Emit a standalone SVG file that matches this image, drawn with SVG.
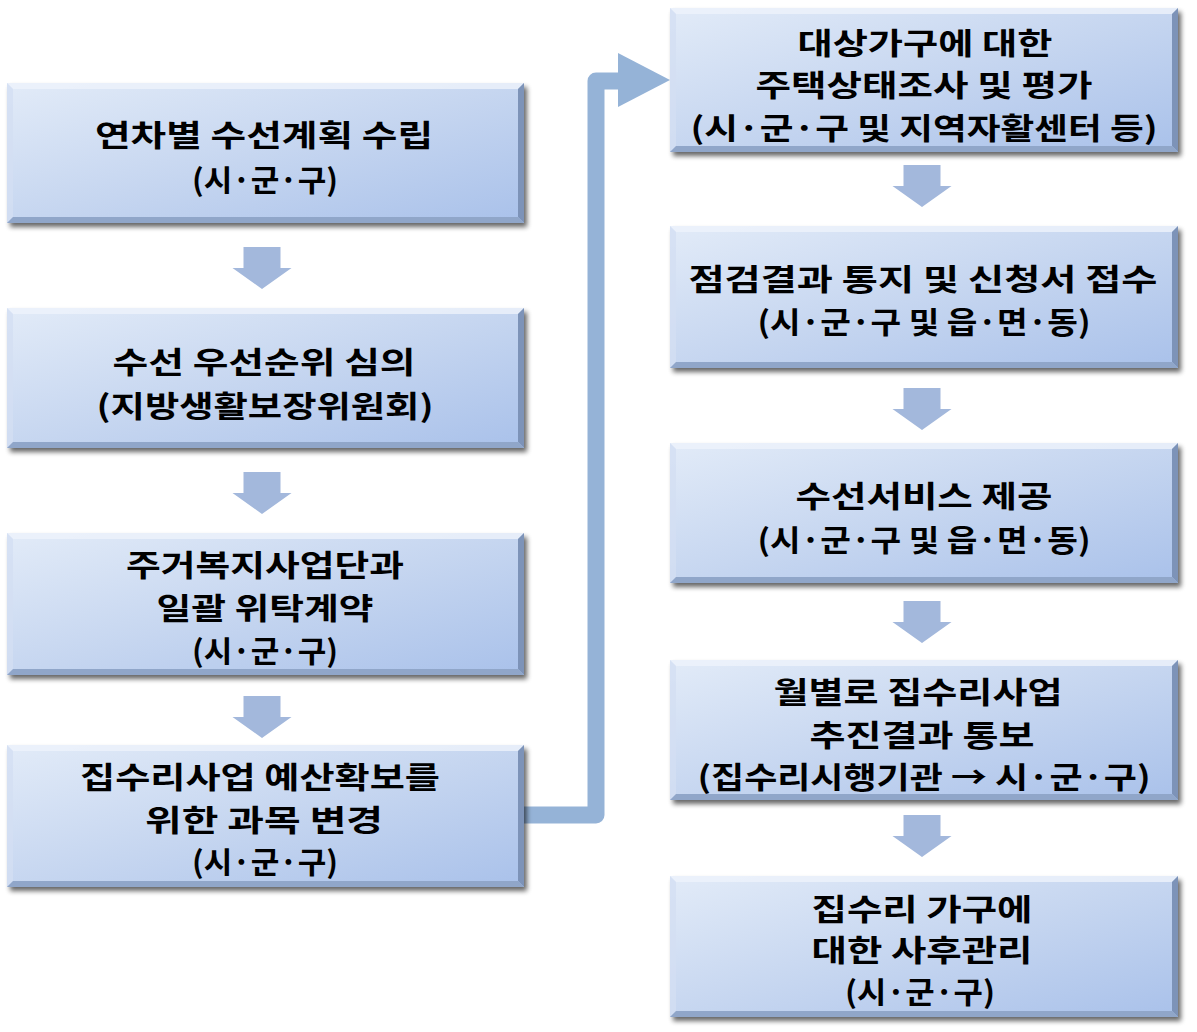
<svg xmlns="http://www.w3.org/2000/svg" width="1197" height="1032" viewBox="0 0 1197 1032">
<defs>
<linearGradient id="fill" x1="0" y1="0" x2="1" y2="1">
<stop offset="0" stop-color="#e2ebf8"/>
<stop offset="0.5" stop-color="#c6d6f0"/>
<stop offset="1" stop-color="#a9c1ea"/>
</linearGradient>
<filter id="sh" x="-5%" y="-10%" width="115%" height="130%">
<feGaussianBlur in="SourceAlpha" stdDeviation="2.5"/>
<feOffset dx="3" dy="4" result="b"/>
<feComponentTransfer><feFuncA type="linear" slope="0.6"/></feComponentTransfer>
<feMerge><feMergeNode/><feMergeNode in="SourceGraphic"/></feMerge>
</filter>
<path id="dn" d="M-18.5,0 H18.5 V21 H29.5 L0,42 L-29.5,21 H-18.5 Z"/>
</defs>
<style>
.box{fill:url(#fill);filter:url(#sh)}
.bt{fill:#eef3fb;opacity:0.8}
.bl{fill:#d3dff2;opacity:0.8}
.br{fill:#7d93b8}
.bb{fill:#90a6c9}
.arr{fill:#a3b8dc}
.elb{fill:none;stroke:#95b3d7;stroke-width:17;stroke-linejoin:round}
text{font-family:"Noto Sans CJK KR","Noto Sans",sans-serif;font-weight:bold;font-size:30px;fill:#000;text-anchor:middle;dominant-baseline:central}
</style>

<g id="connectors">
<path class="elb" d="M524,815 H596 V81 H620"/>
<polygon fill="#95b3d7" points="618,53 670,80 618,107"/>
<use href="#dn" class="arr" x="262" y="247"/>
<use href="#dn" class="arr" x="262" y="472"/>
<use href="#dn" class="arr" x="262" y="696"/>
<use href="#dn" class="arr" x="922" y="165"/>
<use href="#dn" class="arr" x="922" y="388"/>
<use href="#dn" class="arr" x="922" y="601"/>
<use href="#dn" class="arr" x="922" y="815"/>
</g>

<g id="n1">
<rect class="box" x="7" y="83" width="517" height="140"/>
<polygon class="bt" points="7,83 524,83 518,89 13,89"/>
<polygon class="bl" points="7,83 13,89 13,217 7,223"/>
<polygon class="br" points="524,83 524,223 518,217 518,89"/>
<polygon class="bb" points="7,223 524,223 518,217 13,217"/>
<text x="264" y="133" textLength="338" lengthAdjust="spacingAndGlyphs">연차별 수선계획 수립</text>
<text x="265" y="178" textLength="146" lengthAdjust="spacingAndGlyphs">(시·군·구)</text>
</g>

<g id="n2">
<rect class="box" x="7" y="308" width="517" height="140"/>
<polygon class="bt" points="7,308 524,308 518,314 13,314"/>
<polygon class="bl" points="7,308 13,314 13,442 7,448"/>
<polygon class="br" points="524,308 524,448 518,442 518,314"/>
<polygon class="bb" points="7,448 524,448 518,442 13,442"/>
<text x="264" y="360" textLength="303" lengthAdjust="spacingAndGlyphs">수선 우선순위 심의</text>
<text x="265" y="404" textLength="337" lengthAdjust="spacingAndGlyphs">(지방생활보장위원회)</text>
</g>

<g id="n3">
<rect class="box" x="7" y="533" width="517" height="142"/>
<polygon class="bt" points="7,533 524,533 518,539 13,539"/>
<polygon class="bl" points="7,533 13,539 13,669 7,675"/>
<polygon class="br" points="524,533 524,675 518,669 518,539"/>
<polygon class="bb" points="7,675 524,675 518,669 13,669"/>
<text x="265" y="563" textLength="278" lengthAdjust="spacingAndGlyphs">주거복지사업단과</text>
<text x="265" y="606" textLength="217" lengthAdjust="spacingAndGlyphs">일괄 위탁계약</text>
<text x="265" y="649" textLength="146" lengthAdjust="spacingAndGlyphs">(시·군·구)</text>
</g>

<g id="n4">
<rect class="box" x="7" y="745" width="517" height="142"/>
<polygon class="bt" points="7,745 524,745 518,751 13,751"/>
<polygon class="bl" points="7,745 13,751 13,881 7,887"/>
<polygon class="br" points="524,745 524,887 518,881 518,751"/>
<polygon class="bb" points="7,887 524,887 518,881 13,881"/>
<text x="260" y="775" textLength="360" lengthAdjust="spacingAndGlyphs">집수리사업 예산확보를</text>
<text x="264" y="818" textLength="238" lengthAdjust="spacingAndGlyphs">위한 과목 변경</text>
<text x="265" y="860" textLength="146" lengthAdjust="spacingAndGlyphs">(시·군·구)</text>
</g>

<g id="n5">
<rect class="box" x="670" y="8" width="508" height="144"/>
<polygon class="bt" points="670,8 1178,8 1172,14 676,14"/>
<polygon class="bl" points="670,8 676,14 676,146 670,152"/>
<polygon class="br" points="1178,8 1178,152 1172,146 1172,14"/>
<polygon class="bb" points="670,152 1178,152 1172,146 676,146"/>
<text x="925" y="41" textLength="255" lengthAdjust="spacingAndGlyphs">대상가구에 대한</text>
<text x="924" y="83" textLength="337" lengthAdjust="spacingAndGlyphs">주택상태조사 및 평가</text>
<text x="924" y="126" textLength="467" lengthAdjust="spacingAndGlyphs">(시·군·구 및 지역자활센터 등)</text>
</g>

<g id="n6">
<rect class="box" x="670" y="226" width="508" height="142"/>
<polygon class="bt" points="670,226 1178,226 1172,232 676,232"/>
<polygon class="bl" points="670,226 676,232 676,362 670,368"/>
<polygon class="br" points="1178,226 1178,368 1172,362 1172,232"/>
<polygon class="bb" points="670,368 1178,368 1172,362 676,362"/>
<text x="923" y="277" textLength="469" lengthAdjust="spacingAndGlyphs">점검결과 통지 및 신청서 접수</text>
<text x="924" y="320" textLength="333" lengthAdjust="spacingAndGlyphs">(시·군·구 및 읍·면·동)</text>
</g>

<g id="n7">
<rect class="box" x="670" y="443" width="508" height="140"/>
<polygon class="bt" points="670,443 1178,443 1172,449 676,449"/>
<polygon class="bl" points="670,443 676,449 676,577 670,583"/>
<polygon class="br" points="1178,443 1178,583 1172,577 1172,449"/>
<polygon class="bb" points="670,583 1178,583 1172,577 676,577"/>
<text x="924" y="494" textLength="257" lengthAdjust="spacingAndGlyphs">수선서비스 제공</text>
<text x="924" y="538" textLength="333" lengthAdjust="spacingAndGlyphs">(시·군·구 및 읍·면·동)</text>
</g>

<g id="n8">
<rect class="box" x="670" y="660" width="508" height="140"/>
<polygon class="bt" points="670,660 1178,660 1172,666 676,666"/>
<polygon class="bl" points="670,660 676,666 676,794 670,800"/>
<polygon class="br" points="1178,660 1178,800 1172,794 1172,666"/>
<polygon class="bb" points="670,800 1178,800 1172,794 676,794"/>
<text x="918" y="690" textLength="289" lengthAdjust="spacingAndGlyphs">월별로 집수리사업</text>
<text x="922" y="733" textLength="225" lengthAdjust="spacingAndGlyphs">추진결과 통보</text>
<text x="924" y="775" textLength="453" lengthAdjust="spacingAndGlyphs">(집수리시행기관 → 시·군·구)</text>
</g>

<g id="n9">
<rect class="box" x="670" y="876" width="508" height="141"/>
<polygon class="bt" points="670,876 1178,876 1172,882 676,882"/>
<polygon class="bl" points="670,876 676,882 676,1011 670,1017"/>
<polygon class="br" points="1178,876 1178,1017 1172,1011 1172,882"/>
<polygon class="bb" points="670,1017 1178,1017 1172,1011 676,1011"/>
<text x="922" y="907" textLength="221" lengthAdjust="spacingAndGlyphs">집수리 가구에</text>
<text x="922" y="948" textLength="221" lengthAdjust="spacingAndGlyphs">대한 사후관리</text>
<text x="920" y="990" textLength="150" lengthAdjust="spacingAndGlyphs">(시·군·구)</text>
</g>
</svg>
